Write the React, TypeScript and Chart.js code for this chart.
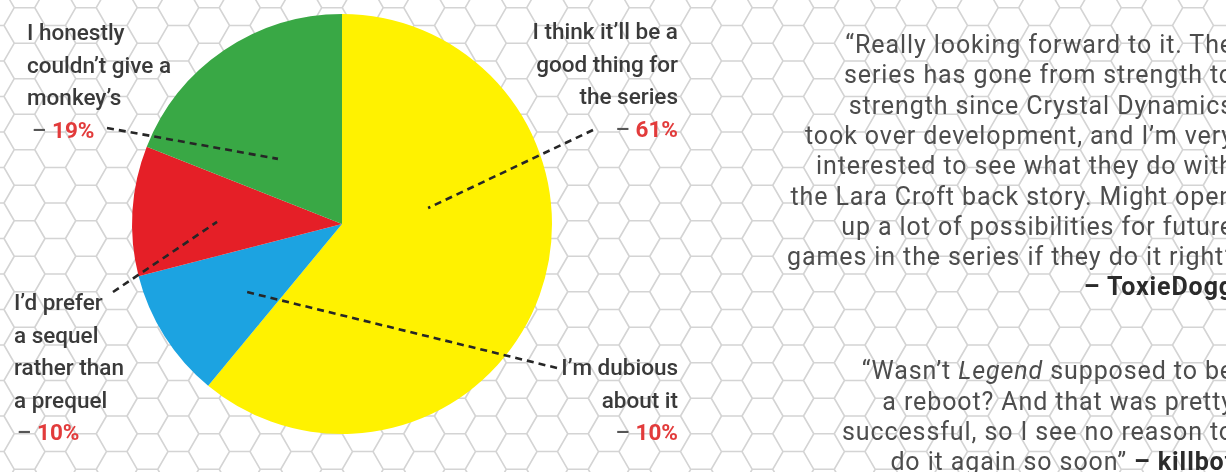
import React, { useEffect, useRef } from "react";
import { Chart, registerables } from "chart.js";

Chart.register(...registerables);

// ---- data ----
const categories = [
  "I think it\u2019ll be a good thing for the series",
  "I\u2019m dubious about it",
  "I\u2019d prefer a sequel rather than a prequel",
  "I honestly couldn\u2019t give a monkey\u2019s",
];
const shares = [61, 10, 10, 19];
const sliceColors = ["#fff200", "#1ca3e1", "#e51f27", "#39a845"];
const labelLines = [
  ["I think it\u2019ll be a", "good thing for", "the series"],
  ["I\u2019m dubious", "about it"],
  ["I\u2019d prefer", "a sequel", "rather than", "a prequel"],
  ["I honestly", "couldn\u2019t give a", "monkey\u2019s"],
];
const quote1Lines = [
  "\u201cReally looking forward to it. The",
  "series has gone from strength to",
  "strength since Crystal Dynamics",
  "took over development, and I\u2019m very",
  "interested to see what they do with",
  "the Lara Croft back story. Might open",
  "up a lot of possibilities for future",
  "games in the series if they do it right\u201d",
];
const quote1Author = "\u2013 ToxieDogg";
const quote2Author = "\u2013 killbot";

// ---- layout (positions only) ----
const LINE_H = 32.6;
const labelLayout = [
  { align: "right", x: 678, y: 39, pctX: 0, from: [593, 130], to: [0.41, -0.076] },
  { align: "right", x: 678, y: 375, pctX: 0, from: [557, 368], to: [-0.452, 0.324] },
  { align: "left", x: 14, y: 310, pctX: 17, from: [113, 292], to: [-0.595, -0.01] },
  { align: "left", x: 27, y: 40, pctX: 32, from: [107, 128], to: [-0.305, -0.31] },
];

const hexPlugin = {
  id: "hexBackground",
  beforeDraw(chart: any) {
    const ctx = chart.ctx as CanvasRenderingContext2D;
    const W = chart.width;
    const H = chart.height;
    ctx.save();
    ctx.fillStyle = "#ffffff";
    ctx.fillRect(0, 0, W, H);
    const s = 20.5;
    const colStep = 1.5 * s;
    const rowStep = Math.sqrt(3) * s;
    const x0 = 701;
    const y0 = 309.5;
    ctx.beginPath();
    const iMin = Math.floor((0 - x0) / colStep) - 2;
    const iMax = Math.ceil((W - x0) / colStep) + 2;
    const jMin = Math.floor((0 - y0) / rowStep) - 2;
    const jMax = Math.ceil((H - y0) / rowStep) + 2;
    for (let i = iMin; i <= iMax; i++) {
      const cx = x0 + i * colStep;
      const off = Math.abs(i) % 2 === 1 ? rowStep / 2 : 0;
      for (let j = jMin; j <= jMax; j++) {
        const cy = y0 + j * rowStep + off;
        for (let k = 0; k <= 6; k++) {
          const a = (Math.PI / 3) * k;
          const px = cx + s * Math.cos(a);
          const py = cy + s * Math.sin(a);
          if (k === 0) ctx.moveTo(px, py);
          else ctx.lineTo(px, py);
        }
      }
    }
    ctx.strokeStyle = "#d4d4d4";
    ctx.lineWidth = 1.6;
    ctx.stroke();
    ctx.restore();
  },
};

const labelPlugin = {
  id: "pieLabels",
  afterDraw(chart: any) {
    const ctx = chart.ctx as CanvasRenderingContext2D;
    const meta = chart.getDatasetMeta(0);
    ctx.save();
    meta.data.forEach((arc: any, idx: number) => {
      const lay = labelLayout[idx];
      const r = arc.outerRadius;
      const ix = arc.x + lay.to[0] * r;
      const iy = arc.y + lay.to[1] * r;
      // leader line
      ctx.beginPath();
      ctx.setLineDash([7, 5]);
      ctx.lineWidth = 2.6;
      ctx.strokeStyle = "#262626";
      ctx.moveTo(lay.from[0], lay.from[1]);
      ctx.lineTo(ix, iy);
      ctx.stroke();
      ctx.setLineDash([]);
      // text lines
      const base = "500 22.5px Roboto";
      ctx.font = base;
      ctx.fillStyle = "#3a3a3a";
      ctx.textBaseline = "alphabetic";
      const lines = labelLines[idx];
      lines.forEach((ln, k) => {
        ctx.textAlign = lay.align as CanvasTextAlign;
        ctx.fillText(ln, lay.x, lay.y + k * LINE_H);
      });
      const py = lay.y + lines.length * LINE_H;
      const pct = shares[idx] + "%";
      const dash = "\u2013 ";
      if (lay.align === "right") {
        ctx.font = "700 22.5px Roboto";
        ctx.textAlign = "right";
        const pw = ctx.measureText(pct).width;
        ctx.fillStyle = "#e23b3b";
        ctx.fillText(pct, lay.x, py);
        ctx.font = base;
        ctx.fillStyle = "#555555";
        ctx.fillText(dash, lay.x - pw, py);
      } else {
        ctx.font = base;
        ctx.textAlign = "left";
        ctx.fillStyle = "#555555";
        ctx.fillText(dash, lay.pctX, py);
        const dw = ctx.measureText(dash).width;
        ctx.font = "700 22.5px Roboto";
        ctx.fillStyle = "#e23b3b";
        ctx.fillText(pct, lay.pctX + dw, py);
      }
    });
    ctx.restore();
  },
};

const quoteFont: React.CSSProperties = {
  position: "absolute",
  right: -8,
  whiteSpace: "nowrap",
  fontFamily: "Roboto, sans-serif",
  fontSize: 25,
  letterSpacing: "0.9px",
  lineHeight: "30px",
  color: "#4d4d4d",
};

function QuoteLine({ baseline, children, style }: any) {
  return <div style={{ ...quoteFont, top: baseline - 23.5, ...(style || {}) }}>{children}</div>;
}

export default function App() {
  const canvasRef = useRef<HTMLCanvasElement | null>(null);

  useEffect(() => {
    document.body.style.margin = "0";
    const canvas = canvasRef.current;
    if (!canvas) return;
    const chart = new Chart(canvas, {
      type: "pie",
      data: {
        labels: categories,
        datasets: [
          {
            data: shares,
            backgroundColor: sliceColors,
            borderWidth: 0,
          },
        ],
      },
      options: {
        responsive: false,
        animation: false,
        devicePixelRatio: 1,
        layout: { padding: { left: 132, top: 14, right: 674, bottom: 38 } },
        plugins: {
          legend: { display: false },
          tooltip: { enabled: false },
        },
      },
      plugins: [hexPlugin, labelPlugin],
    });
    return () => chart.destroy();
  }, []);

  const q1Base = [53, 83.5, 114, 144, 174.5, 205, 235, 265];
  return (
    <div
      style={{
        position: "fixed",
        left: 0,
        top: 0,
        width: 1226,
        height: 472,
        overflow: "hidden",
        background: "#fff",
      }}
    >
      <canvas ref={canvasRef} width={1226} height={472} style={{ position: "absolute", left: 0, top: 0 }} />
      {quote1Lines.map((ln, i) => (
        <QuoteLine key={i} baseline={q1Base[i]}>
          {ln}
        </QuoteLine>
      ))}
      <QuoteLine baseline={295} style={{ fontWeight: 700, color: "#2b2b2b" }}>
        {quote1Author}
      </QuoteLine>
      <QuoteLine baseline={379}>
        {"\u201cWasn\u2019t "}
        <i>Legend</i>
        {" supposed to be"}
      </QuoteLine>
      <QuoteLine baseline={410}>{"a reboot? And that was pretty"}</QuoteLine>
      <QuoteLine baseline={440}>{"successful, so I see no reason to"}</QuoteLine>
      <QuoteLine baseline={470}>
        {"do it again so soon\u201d "}
        <b style={{ color: "#2b2b2b" }}>{quote2Author}</b>
      </QuoteLine>
    </div>
  );
}
